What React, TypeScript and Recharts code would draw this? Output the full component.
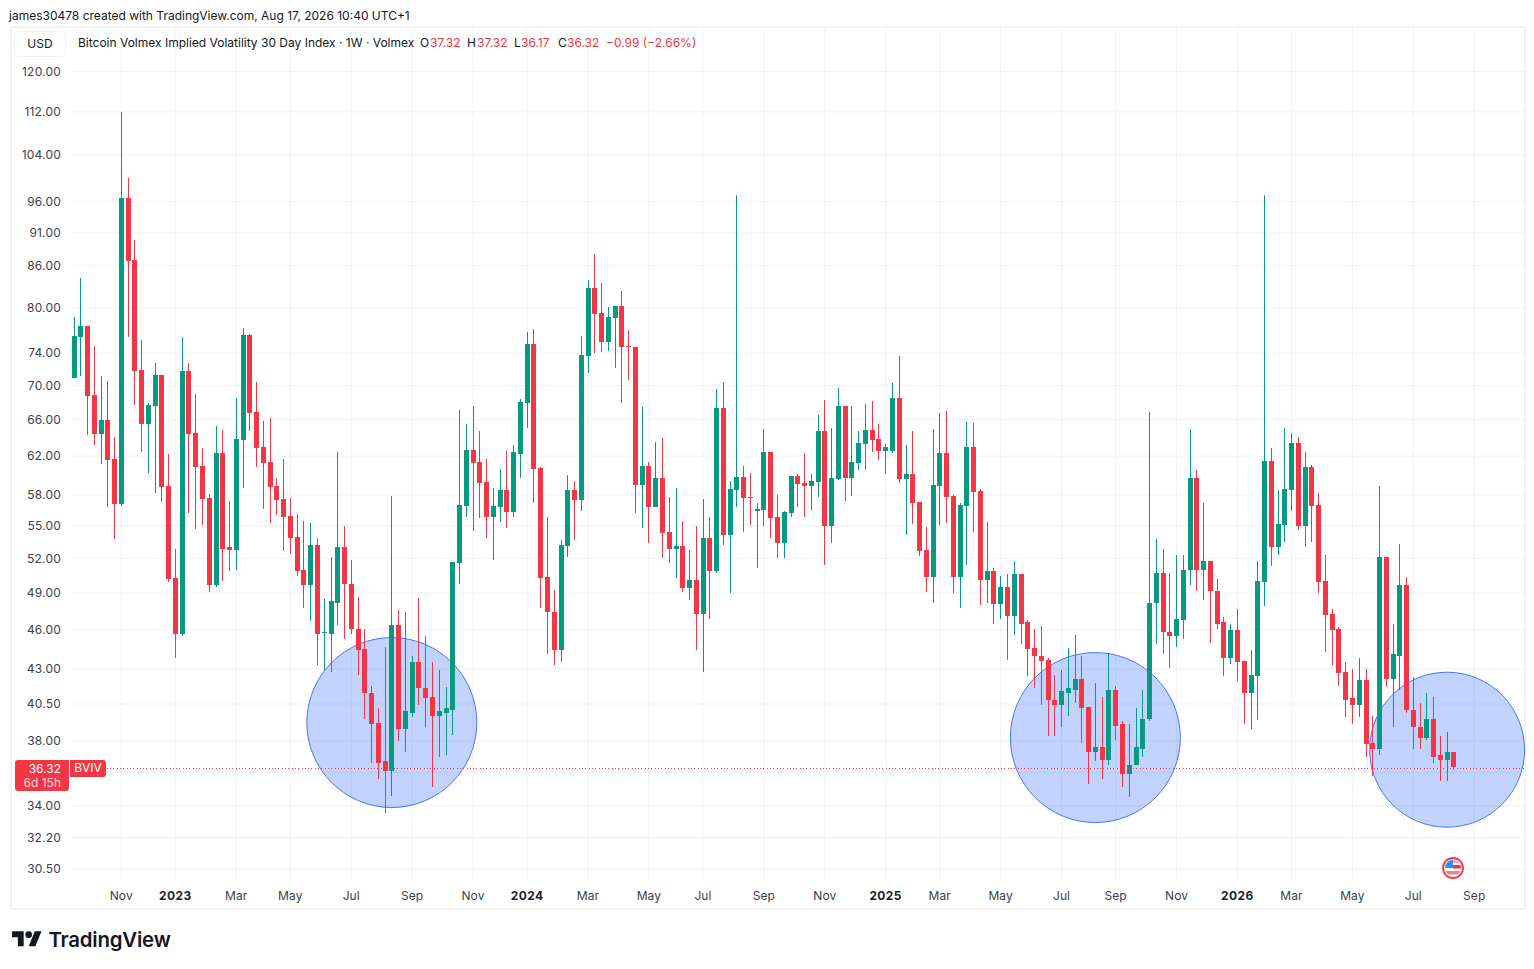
import React from 'react';
import { Bar, CartesianGrid, Cell, ComposedChart, ReferenceDot, ReferenceLine, XAxis, YAxis } from 'recharts';

// weekly candles, first bar is the week of 2022-09-19
const opens = [
  70.9, 76.1, 77.5, 68.9, 64.4, 66.0, 61.7, 57.1, 96.6, 86.8, 71.9, 65.5, 67.6, 71.3, 58.9, 50.3, 45.7, 71.8, 64.5, 61.0,
  57.7, 49.7, 62.3, 53.0, 52.8, 63.7, 76.3, 66.9, 63.0, 61.4, 58.9, 57.6, 55.9, 54.0, 51.0, 49.7, 53.2, 45.75, 45.7, 48.2,
  53.0, 49.8, 46.1, 44.5, 41.3, 39.2, 36.7, 36.1, 46.4, 38.8, 39.9, 43.5, 41.6, 41.0, 39.7, 39.9, 40.1, 51.6, 56.9, 62.7,
  61.4, 59.3, 55.8, 56.8, 58.5, 56.3, 62.2, 67.9, 75.2, 60.7, 50.4, 47.4, 44.4, 53.1, 58.5, 57.5, 73.6, 82.8, 79.3, 75.4,
  78.6, 80.2, 74.9, 74.8, 59.0, 61.0, 56.8, 59.7, 54.4, 52.9, 53.1, 49.4, 50.1, 47.3, 53.9, 50.9, 67.3, 54.1, 58.5, 59.8,
  57.8, 56.4, 56.5, 62.4, 55.8, 53.4, 56.2, 59.9, 59.2, 58.9, 59.3, 64.7, 55.0, 59.6, 67.6, 59.7, 61.3, 63.3, 64.8, 63.8,
  62.5, 62.5, 68.5, 59.6, 60.1, 57.3, 52.8, 50.4, 58.9, 62.3, 57.9, 50.4, 56.9, 63.0, 58.4, 50.1, 50.9, 48.1, 49.5, 47.1,
  50.6, 46.6, 44.6, 44.0, 43.7, 40.8, 40.4, 41.3, 41.5, 42.3, 40.3, 37.3, 37.6, 36.8, 41.5, 39.1, 35.9, 36.5, 37.5, 39.5,
  48.2, 50.7, 45.8, 45.5, 46.8, 51.0, 59.7, 51.0, 51.8, 49.2, 46.6, 43.8, 46.0, 43.6, 41.3, 42.5, 49.9, 61.5, 53.0, 55.1,
  58.5, 63.4, 55.0, 60.8, 57.0, 50.0, 47.3, 46.1, 42.8, 40.9, 40.4, 42.2, 37.9, 37.5, 52.1, 42.3, 44.0, 49.7, 40.1, 38.9,
  38.2, 39.5, 37.1, 36.8, 37.32,
];
const highs = [
  78.7, 84.2, 77.5, 74.9, 71.1, 70.5, 64.1, 112.0, 99.9, 89.9, 75.7, 67.9, 72.8, 71.3, 62.2, 52.9, 76.1, 72.8, 69.0, 62.9,
  58.1, 65.3, 64.8, 57.4, 68.5, 77.3, 76.5, 70.4, 65.8, 66.2, 59.7, 61.7, 57.7, 56.1, 55.5, 55.3, 53.9, 48.5, 52.1, 62.4,
  55.0, 51.9, 48.7, 46.1, 41.8, 40.2, 44.7, 57.9, 47.6, 47.4, 44.0, 48.6, 45.5, 43.5, 42.9, 41.7, 51.7, 67.1, 65.5, 67.6,
  64.7, 61.7, 58.7, 60.6, 62.5, 63.2, 68.4, 76.7, 77.1, 60.8, 55.8, 49.3, 53.7, 60.0, 59.4, 76.2, 83.9, 87.7, 83.5, 80.1,
  80.2, 82.3, 77.0, 74.8, 67.5, 61.4, 63.5, 64.0, 57.8, 58.7, 55.5, 52.8, 55.0, 57.6, 55.8, 69.6, 70.4, 59.4, 97.1, 61.0,
  60.2, 57.2, 65.0, 62.4, 58.0, 56.4, 59.9, 60.1, 62.3, 60.1, 66.5, 68.3, 65.1, 69.7, 67.6, 67.6, 64.7, 67.8, 68.1, 65.5,
  63.3, 70.3, 73.6, 63.2, 64.7, 57.3, 54.9, 65.0, 66.8, 67.0, 58.0, 57.2, 65.7, 65.6, 58.6, 55.4, 51.2, 50.5, 50.6, 51.8,
  50.6, 46.8, 46.1, 46.3, 43.8, 42.6, 42.9, 44.6, 45.6, 44.0, 40.3, 42.0, 41.0, 44.2, 41.8, 39.3, 39.1, 40.2, 41.5, 66.9,
  53.8, 52.9, 50.7, 52.3, 52.3, 65.0, 60.5, 57.2, 51.8, 50.2, 47.0, 46.5, 47.7, 43.6, 44.4, 51.8, 97.1, 62.9, 58.5, 65.1,
  64.5, 64.1, 62.4, 61.1, 58.2, 52.3, 47.7, 46.2, 43.5, 43.0, 43.8, 43.0, 39.7, 58.9, 52.1, 46.5, 53.3, 50.4, 42.4, 40.6,
  41.3, 41.0, 38.3, 38.6, 37.32,
];
const lows = [
  70.9, 71.1, 64.3, 63.2, 61.2, 56.8, 53.8, 56.9, 76.1, 67.7, 62.4, 60.2, 58.2, 57.3, 49.9, 43.8, 45.5, 56.2, 54.7, 55.1,
  49.1, 49.5, 50.0, 50.9, 51.0, 58.7, 64.7, 60.9, 56.6, 55.3, 56.0, 52.7, 52.4, 50.5, 47.8, 46.7, 43.3, 42.9, 42.8, 46.4,
  45.3, 45.7, 42.6, 39.5, 36.6, 35.6, 33.6, 34.6, 38.0, 37.3, 39.6, 40.4, 38.9, 35.1, 37.0, 37.1, 38.4, 49.8, 55.8, 54.5,
  55.7, 53.9, 51.9, 55.4, 54.8, 55.8, 59.7, 65.1, 57.2, 47.8, 44.1, 43.3, 43.5, 52.1, 53.7, 56.4, 71.5, 74.0, 74.1, 74.3,
  72.1, 67.9, 70.7, 56.2, 54.8, 53.4, 56.8, 52.0, 51.6, 50.3, 49.1, 48.4, 44.4, 42.8, 46.9, 50.7, 53.2, 49.0, 56.8, 54.4,
  55.1, 51.2, 55.0, 53.9, 52.0, 52.0, 55.8, 56.8, 55.8, 56.5, 57.8, 51.4, 53.4, 59.5, 57.4, 57.9, 60.5, 60.5, 62.4, 61.6,
  60.1, 62.3, 59.2, 54.1, 55.2, 52.2, 49.1, 48.2, 55.1, 55.3, 49.0, 47.8, 51.4, 54.4, 48.0, 48.2, 46.5, 46.9, 43.7, 45.6,
  44.9, 42.5, 41.6, 40.4, 38.3, 38.3, 38.9, 39.7, 40.6, 37.9, 35.3, 36.7, 35.6, 36.5, 38.1, 35.1, 34.5, 36.5, 37.0, 39.3,
  44.9, 44.1, 43.1, 44.7, 45.3, 49.7, 49.2, 48.4, 45.0, 46.1, 42.5, 43.4, 42.1, 39.1, 38.8, 39.4, 47.9, 51.3, 52.3, 53.5,
  56.4, 54.6, 53.0, 53.5, 49.0, 44.3, 43.3, 41.8, 39.6, 39.1, 39.6, 37.0, 35.8, 37.1, 41.7, 38.9, 41.5, 39.9, 37.5, 37.5,
  38.1, 36.6, 35.5, 35.5, 36.17,
];
const closes = [
  76.2, 77.5, 68.8, 64.4, 66.0, 61.6, 57.1, 96.6, 86.7, 71.8, 65.5, 67.7, 71.3, 58.8, 50.2, 45.7, 71.8, 64.4, 60.9, 57.6,
  49.7, 62.3, 52.9, 52.8, 63.8, 76.4, 66.8, 62.9, 61.3, 58.8, 57.5, 55.8, 53.9, 50.9, 49.7, 53.2, 45.7, 45.85, 48.3, 53.0,
  49.8, 46.1, 44.4, 41.3, 39.1, 36.6, 36.1, 46.4, 38.8, 40.0, 43.5, 41.6, 40.9, 39.7, 40.0, 40.2, 51.7, 57.0, 62.7, 61.3,
  59.2, 55.8, 56.9, 58.5, 56.3, 62.4, 68.0, 75.2, 60.6, 50.3, 47.4, 44.4, 53.2, 58.5, 57.5, 73.8, 82.8, 79.1, 75.4, 78.7,
  80.2, 74.8, 74.8, 59.0, 61.0, 56.8, 59.7, 54.3, 52.9, 53.1, 49.4, 50.1, 47.3, 53.9, 50.9, 67.3, 54.1, 58.6, 59.8, 57.7,
  57.7, 56.6, 62.4, 55.7, 53.4, 56.3, 59.9, 59.1, 58.9, 59.4, 64.7, 55.0, 59.7, 67.6, 59.7, 61.4, 63.4, 64.8, 63.7, 62.5,
  63.0, 68.5, 59.6, 60.1, 57.2, 52.7, 50.4, 59.0, 62.3, 57.8, 50.4, 57.0, 63.0, 58.3, 50.1, 50.9, 48.1, 49.5, 47.1, 50.6,
  46.5, 44.5, 44.0, 43.6, 40.8, 40.4, 41.4, 41.6, 42.3, 40.2, 37.3, 37.6, 36.8, 41.5, 39.0, 35.9, 36.5, 37.6, 39.5, 48.2,
  50.7, 45.8, 45.5, 46.9, 51.0, 59.7, 51.0, 51.8, 49.2, 46.5, 43.8, 46.0, 43.5, 41.3, 42.6, 50.0, 61.5, 53.0, 55.2, 58.6,
  63.4, 55.0, 60.8, 56.9, 49.9, 47.2, 46.0, 42.7, 40.8, 40.4, 42.2, 37.8, 37.5, 52.1, 42.3, 44.1, 49.7, 40.1, 38.9, 38.2,
  39.5, 37.0, 36.8, 37.31, 36.32,
];

const priceTicks = [120, 112, 104, 96, 91, 86, 80, 74, 70, 66, 62, 58, 55, 52, 49, 46, 43, 40.5, 38, 36, 34, 32.2, 30.5];
const monthTicks = [
  '2022-11-07', '2023-01-02', '2023-03-06', '2023-05-01', '2023-07-03', '2023-09-04', '2023-11-06', '2024-01-01',
  '2024-03-04', '2024-05-06', '2024-07-01', '2024-09-02', '2024-11-04', '2025-01-06', '2025-03-03', '2025-05-05',
  '2025-07-07', '2025-09-01', '2025-11-03', '2026-01-05', '2026-03-02', '2026-05-04', '2026-07-06', '2026-09-07',
];
const monthLabels = [
  'Nov', '2023', 'Mar', 'May', 'Jul', 'Sep', 'Nov', '2024', 'Mar', 'May', 'Jul', 'Sep', 'Nov', '2025', 'Mar', 'May',
  'Jul', 'Sep', 'Nov', '2026', 'Mar', 'May', 'Jul', 'Sep',
];
// drawn circles: week, value at the centre, radius in px
const circleWeeks = ['2023-08-14', '2025-08-11', '2026-08-10'];
const circleValues = [39.23, 38.23, 37.44];
const circleRadii = [85, 85, 77.5];

const UP = '#089981';
const DOWN = '#F23645';
const TOTAL_WEEKS = 215; // bars plus the empty space on the right

const weeks = Array.from({ length: TOTAL_WEEKS }, (_, i) =>
  new Date(Date.UTC(2022, 8, 19 + i * 7)).toISOString().slice(0, 10)
);

const rows = weeks.map((week, i) =>
  i < opens.length
    ? {
        week,
        wick: [lows[i], highs[i]],
        body: [Math.min(opens[i], closes[i]), Math.max(opens[i], closes[i])],
        color: closes[i] >= opens[i] ? UP : DOWN,
      }
    : { week, wick: null, body: null, color: UP }
);

const FONT = 'Inter, "Noto Sans", sans-serif';

const PriceTick = ({ y, payload }: any) => (
  <text x={61} y={y} dy={4.25} textAnchor="end" fontFamily={FONT} fontSize={12} fill="#3d404a" letterSpacing={0.2}>
    {payload.value === 36 ? '' : payload.value.toFixed(2)}
  </text>
);

const MonthTick = ({ x, y, payload }: any) => {
  const label = monthLabels[monthTicks.indexOf(payload.value)];
  const isYear = /^\d+$/.test(label);
  return (
    <text x={x} y={y} dy={11} textAnchor="middle" fontFamily={FONT} fontSize={12} fontWeight={isYear ? 700 : 400}
      fill={isYear ? '#1f222b' : '#3d404a'} letterSpacing={isYear ? 0.4 : 0.1}>
      {label}
    </text>
  );
};

const put = (left: number, top: number, extra: React.CSSProperties = {}): React.CSSProperties => ({
  position: 'absolute', left, top, whiteSpace: 'pre', fontFamily: FONT, fontSize: 12, lineHeight: '16px', ...extra,
});

const Val = ({ children, left }: any) => <span style={put(left, 35, { color: DOWN })}>{children}</span>;
const Key = ({ children, left }: any) => <span style={put(left, 35, { color: '#131722' })}>{children}</span>;

export default function App() {
  return (
    <div style={{ position: 'absolute', left: 0, top: 0, width: 1534, height: 969, background: '#fff', overflow: 'hidden' }}>
      <div style={put(9, 8, { color: '#131722' })}>james30478 created with TradingView.com, Aug 17, 2026 10:40 UTC+1</div>
      <div style={{ position: 'absolute', left: 10, top: 26, width: 1512, height: 880, border: '2px solid #f3f3f3' }} />

      <div style={{ position: 'absolute', left: 0, top: 0 }}>
        <ComposedChart width={1534} height={969} data={rows} margin={{ top: 28, right: 9.1, bottom: 61, left: 12.5 }} barGap={0}>
          <CartesianGrid xAxisId="main" stroke="#f1f2f4" syncWithTicks />
          <XAxis xAxisId="main" dataKey="week" ticks={monthTicks} interval={0} height={27} axisLine={false} tickLine={false} tick={<MonthTick />} />
          <XAxis xAxisId="wicks" dataKey="week" hide />
          <YAxis scale="log" domain={[29.88, 129.36]} allowDataOverflow ticks={priceTicks} interval={0} width={58} axisLine={false} tickLine={false} tick={<PriceTick />} />
          {circleWeeks.map((week, i) => (
            <ReferenceDot key={week} xAxisId="main" x={week} y={circleValues[i]} r={circleRadii[i]} fill="#2962ff" fillOpacity={0.28} stroke="#2962ff" strokeOpacity={0.85} strokeWidth={1} ifOverflow="visible" zIndex={100} />
          ))}
          <Bar xAxisId="wicks" dataKey="wick" barSize={1} isAnimationActive={false} style={{ shapeRendering: 'crispEdges' }}>
            {rows.map((row) => <Cell key={row.week} fill={row.color} />)}
          </Bar>
          <Bar xAxisId="main" dataKey="body" barSize={5} isAnimationActive={false} style={{ shapeRendering: 'crispEdges' }}>
            {rows.map((row) => <Cell key={row.week} fill={row.color} />)}
          </Bar>
          <ReferenceLine xAxisId="main" y={36.32} stroke={DOWN} strokeDasharray="1 2.3" zIndex={900} style={{ shapeRendering: 'crispEdges', transform: 'translateY(1px)' }} />
        </ComposedChart>
      </div>

      <div style={{ position: 'absolute', left: 14, top: 31, width: 50, height: 24, border: '1px solid #f0f1f3', borderRadius: 5, background: '#fff', color: '#131722', fontFamily: FONT, fontSize: 12, lineHeight: '24px', textAlign: 'center' }}>USD</div>
      <div style={put(78, 35, { color: '#131722' })}>Bitcoin Volmex Implied Volatility 30 Day Index · 1W · Volmex</div>
      <Key left={420}>O</Key><Val left={430}>37.32</Val>
      <Key left={467}>H</Key><Val left={477}>37.32</Val>
      <Key left={514}>L</Key><Val left={521}>36.17</Val>
      <Key left={558}>C</Key><Val left={567}>36.32</Val>
      <Val left={606}>−0.99 (−2.66%)</Val>

      <div style={{ position: 'absolute', left: 15, top: 760, width: 54, height: 31, background: DOWN, borderRadius: '3px 0 3px 3px' }} />
      <div style={put(15, 762, { width: 46, textAlign: 'right', color: '#fff', lineHeight: '14px' })}>36.32</div>
      <div style={put(15, 776, { width: 46, textAlign: 'right', color: '#fff', opacity: 0.8, lineHeight: '14px' })}>6d 15h</div>
      <div style={put(70, 760, { width: 36, height: 17, textAlign: 'center', color: '#fff', background: DOWN, borderRadius: '0 3px 3px 0' })}>BVIV</div>

      <svg style={{ position: 'absolute', left: 1442, top: 857 }} width={22} height={22} viewBox="0 0 22 22">
        <defs><clipPath id="flag"><circle cx={11} cy={11} r={8} /></clipPath></defs>
        <circle cx={11} cy={11} r={10} fill="#fff" stroke={DOWN} strokeWidth={1.8} />
        <g clipPath="url(#flag)">
          <rect x={2} y={3} width={18} height={3} fill="#f7a6ad" />
          <rect x={11} y={8} width={9} height={3.5} fill={DOWN} />
          <rect x={2} y={14} width={18} height={3.5} fill="#f47c86" />
          <rect x={2} y={3} width={9} height={8} fill="#2f8fe8" />
        </g>
      </svg>

      <svg style={{ position: 'absolute', left: 12, top: 927.7 }} width={30} height={23.3} viewBox="0 0 36 28">
        <path d="M14 22H7V11H0V4h14v18zM28 22h-8l7.5-18h8L28 22z" fill="#131722" />
        <circle cx={20} cy={8} r={4} fill="#131722" />
      </svg>
      <div style={put(48.5, 926, { fontSize: 20.4, lineHeight: '27px', fontWeight: 600, color: '#131722', letterSpacing: -0.2 })}>TradingView</div>
    </div>
  );
}
